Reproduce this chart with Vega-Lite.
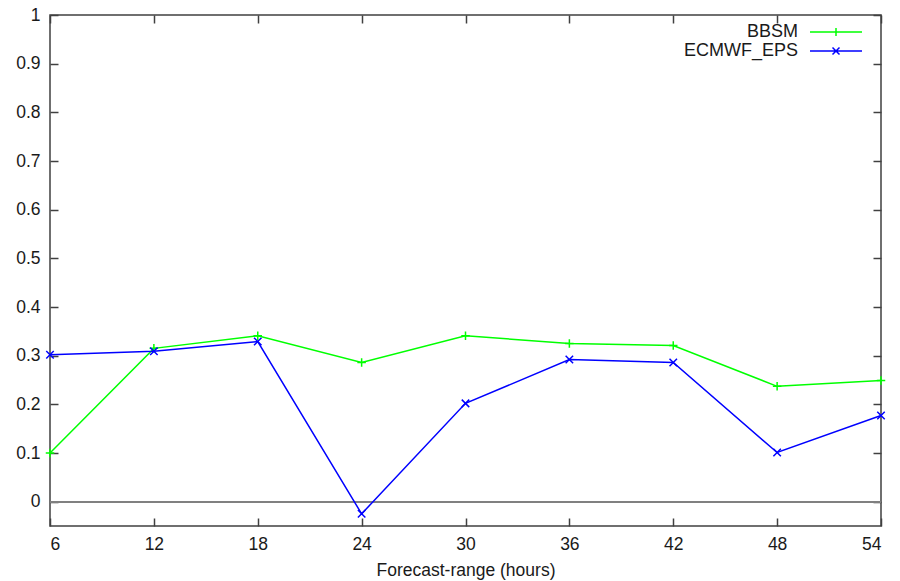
{
  "$schema": "https://vega.github.io/schema/vega-lite/v6.json",
  "width": 831,
  "height": 511,
  "autosize": "none",
  "padding": {"left": 50, "top": 15, "right": 19, "bottom": 55},
  "background": "white",
  "config": {
    "font": "Liberation Sans",
    "view": {"stroke": "#404040", "strokeWidth": 1.5},
    "axis": {
      "grid": false,
      "domain": false,
      "tickColor": "#404040",
      "tickWidth": 1.5,
      "tickSize": -8,
      "labelFont": "Liberation Sans",
      "labelFontSize": 17.5,
      "labelColor": "#1a1a1a",
      "titleFont": "Liberation Sans",
      "titleFontSize": 17.5,
      "titleFontWeight": "normal",
      "titleColor": "#1a1a1a"
    },
    "legend": {
      "labelFont": "Liberation Sans",
      "labelFontSize": 18,
      "labelColor": "#1a1a1a"
    }
  },
  "data": {
    "values": [
      {"hours": 6, "model": "BBSM", "score": 0.1},
      {"hours": 12, "model": "BBSM", "score": 0.315},
      {"hours": 18, "model": "BBSM", "score": 0.341},
      {"hours": 24, "model": "BBSM", "score": 0.286},
      {"hours": 30, "model": "BBSM", "score": 0.341},
      {"hours": 36, "model": "BBSM", "score": 0.325},
      {"hours": 42, "model": "BBSM", "score": 0.321},
      {"hours": 48, "model": "BBSM", "score": 0.237},
      {"hours": 54, "model": "BBSM", "score": 0.249},
      {"hours": 6, "model": "ECMWF_EPS", "score": 0.302},
      {"hours": 12, "model": "ECMWF_EPS", "score": 0.309},
      {"hours": 18, "model": "ECMWF_EPS", "score": 0.329},
      {"hours": 24, "model": "ECMWF_EPS", "score": -0.025},
      {"hours": 30, "model": "ECMWF_EPS", "score": 0.202},
      {"hours": 36, "model": "ECMWF_EPS", "score": 0.292},
      {"hours": 42, "model": "ECMWF_EPS", "score": 0.286},
      {"hours": 48, "model": "ECMWF_EPS", "score": 0.101},
      {"hours": 54, "model": "ECMWF_EPS", "score": 0.177}
    ]
  },
  "resolve": {"axis": {"x": "independent", "y": "independent"}},
  "layer": [
    {
      "mark": {"type": "rule", "color": "#808080", "strokeWidth": 1.5},
      "encoding": {
        "y": {
          "datum": 0,
          "type": "quantitative",
          "scale": {"domain": [-0.05, 1], "nice": false, "zero": false},
          "axis": {
            "orient": "left",
            "title": null,
            "values": [0, 0.1, 0.2, 0.3, 0.4, 0.5, 0.6, 0.7, 0.8, 0.9, 1],
            "format": ".1~f",
            "labelPadding": 18
          }
        }
      }
    },
    {
      "mark": {"type": "line", "strokeWidth": 1.5},
      "encoding": {
        "x": {
          "field": "hours",
          "type": "quantitative",
          "scale": {"domain": [6, 54], "nice": false, "zero": false},
          "axis": {
            "orient": "bottom",
            "title": "Forecast-range (hours)",
            "values": [6, 12, 18, 24, 30, 36, 42, 48, 54],
            "format": "d",
            "labelPadding": 17,
            "titlePadding": 9
          }
        },
        "y": {
          "field": "score",
          "type": "quantitative",
          "axis": {
            "orient": "right",
            "title": null,
            "labels": false,
            "values": [0, 0.1, 0.2, 0.3, 0.4, 0.5, 0.6, 0.7, 0.8, 0.9, 1]
          }
        },
        "color": {
          "field": "model",
          "type": "nominal",
          "scale": {"domain": ["BBSM", "ECMWF_EPS"], "range": ["#00ff00", "#0000ff"]},
          "legend": {
            "title": null,
            "orient": "none",
            "legendX": 777,
            "legendY": 8,
            "padding": 0,
            "symbolSize": 64,
            "symbolStrokeWidth": 1.5,
            "labelAlign": "right",
            "labelOffset": -47,
            "rowPadding": 1,
            "encode": {
              "symbols": {
                "update": {
                  "shape": {
                    "signal": "datum.value === 'BBSM' ? 'M-6.5,0H6.5M0,-1V1' : 'M-6.5,0H6.5M-0.875,-0.875L0.875,0.875M-0.875,0.875L0.875,-0.875'"
                  }
                }
              }
            }
          }
        }
      }
    },
    {
      "transform": [{"filter": "datum.model === 'BBSM'"}],
      "mark": {"type": "point", "filled": false, "strokeWidth": 1.5, "size": 72, "opacity": 1, "shape": "M-1,0H1M0,-1V1"},
      "encoding": {
        "x": {
          "field": "hours",
          "type": "quantitative",
          "axis": {
            "orient": "top",
            "title": null,
            "labels": false,
            "values": [6, 12, 18, 24, 30, 36, 42, 48, 54]
          }
        },
        "y": {"field": "score", "type": "quantitative", "axis": null},
        "color": {"field": "model", "type": "nominal", "legend": null}
      }
    },
    {
      "transform": [{"filter": "datum.model === 'ECMWF_EPS'"}],
      "mark": {"type": "point", "filled": false, "strokeWidth": 1.5, "size": 56, "opacity": 1, "shape": "M-1,-1L1,1M-1,1L1,-1"},
      "encoding": {
        "x": {"field": "hours", "type": "quantitative", "axis": null},
        "y": {"field": "score", "type": "quantitative", "axis": null},
        "color": {"field": "model", "type": "nominal", "legend": null}
      }
    }
  ]
}
